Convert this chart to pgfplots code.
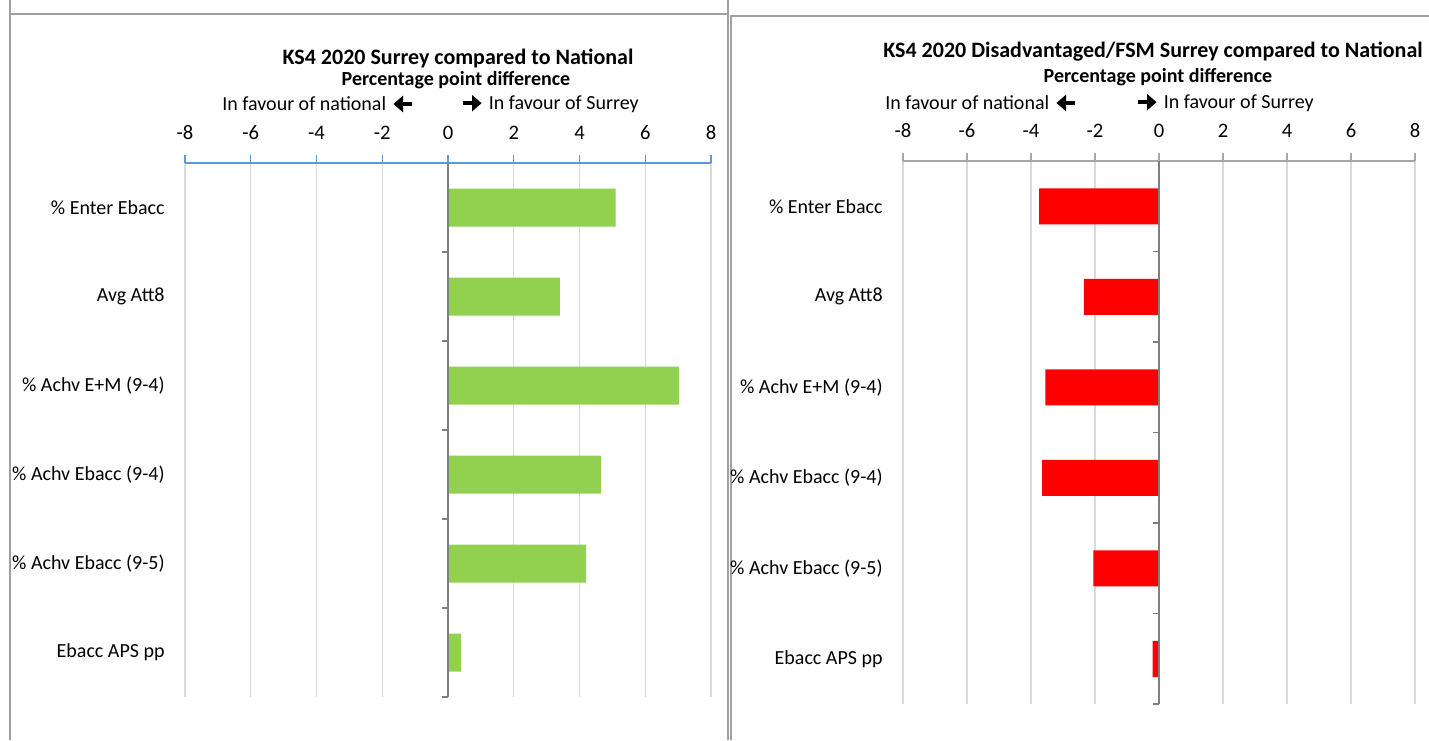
\documentclass[border=0pt]{standalone}
\usepackage{pgfplots}
\pgfplotsset{compat=1.18}
\usetikzlibrary{arrows.meta}
\usepackage{fontspec}
\setmainfont{Carlito}
\definecolor{barGreen}{HTML}{92D050}
\definecolor{barRed}{HTML}{FF0000}
\definecolor{axBlue}{HTML}{5B9BD5}
\definecolor{axGrey}{HTML}{A6A6A6}
\definecolor{zeroGrey}{HTML}{7F7F7F}
\definecolor{gridGrey}{HTML}{D9D9D9}
\definecolor{frameGrey}{HTML}{A0A0A0}
\newcommand{\rarr}{\tikz[baseline=-3.2pt]\draw[line width=2.2pt,-{Triangle[length=4.8pt,width=8pt]}] (0,0)--(9.5pt,0);}
\newcommand{\larr}{\tikz[baseline=-3.2pt]\draw[line width=2.2pt,-{Triangle[length=4.8pt,width=8pt]}] (9.5pt,0)--(0,0);}
\pgfplotsset{
  panel/.style={
    scale only axis,
    xbar,
    xmin=-8, xmax=8,
    ymin=0.5, ymax=6.5,
    y dir=reverse,
    xtick={-8,-6,...,8},
    ytick={1,...,6},
    yticklabels={\% Enter Ebacc, Avg Att8, \% Achv E+M (9-4), \% Achv Ebacc (9-4), \% Achv Ebacc (9-5), Ebacc APS pp},
    axis x line*=top,
    axis y line*=left,
    y axis line style={draw=none},
    ytick style={draw=none},
    tick align=outside,
    major tick length=4pt,
    xmajorgrids,
    grid style={draw=gridGrey, line width=0.6pt},
    xticklabel style={font=\fontsize{10.3}{12}\selectfont, anchor=south, inner sep=0pt, yshift=7.4pt},
    yticklabel style={font=\fontsize{10}{12}\selectfont, anchor=east, inner sep=0pt, xshift=-6pt},
    /pgf/number format/assume math mode=true,
    clip=false,
  }
}
\begin{document}
\begin{tikzpicture}
\path[use as bounding box] (0,0) rectangle (714.5pt,370pt);
% panel frames
\draw[frameGrey, line width=0.8pt] (5pt,370pt) -- (5pt,363pt) -- (364pt,363pt) -- (364pt,370pt);
\draw[frameGrey, line width=0.8pt] (5pt,363pt) -- (5pt,0pt);
\draw[frameGrey, line width=0.8pt] (364pt,363pt) -- (364pt,0pt);
\draw[frameGrey, line width=0.8pt] (365.5pt,0pt) -- (365.5pt,362pt) -- (714.5pt,362pt);

% Left panel
\begin{axis}[panel, at={(92.5pt,21.5pt)}, anchor=south west, width=263pt, height=267pt,
  x axis line style={draw=axBlue, line width=0.7pt},
  xtick style={draw=axBlue, line width=0.7pt}]
\addplot[fill=barGreen, draw=none, bar width=19pt] coordinates {(5.1,1) (3.4,2) (7.03,3) (4.65,4) (4.2,5) (0.4,6)};
\draw[zeroGrey, line width=0.8pt] (axis cs:0,0.5) -- (axis cs:0,6.5);
\draw[zeroGrey, line width=0.8pt] (axis cs:0,1.5) -- ++(-3pt,0pt) (axis cs:0,2.5) -- ++(-3pt,0pt) (axis cs:0,3.5) -- ++(-3pt,0pt) (axis cs:0,4.5) -- ++(-3pt,0pt) (axis cs:0,5.5) -- ++(-3pt,0pt) (axis cs:0,6.5) -- ++(-3pt,0pt);
\end{axis}

% Right panel
\begin{axis}[panel, at={(451.5pt,18pt)}, anchor=south west, width=256pt, height=271.5pt,
  x axis line style={draw=axGrey, line width=0.7pt},
  xtick style={draw=axGrey, line width=0.7pt}]
\addplot[fill=barRed, draw=none, bar width=18pt] coordinates {(-3.75,1) (-2.35,2) (-3.55,3) (-3.65,4) (-2.05,5) (-0.2,6)};
\draw[zeroGrey, line width=0.8pt] (axis cs:0,0.5) -- (axis cs:0,6.5);
\draw[zeroGrey, line width=0.8pt] (axis cs:0,1.5) -- ++(-3pt,0pt) (axis cs:0,2.5) -- ++(-3pt,0pt) (axis cs:0,3.5) -- ++(-3pt,0pt) (axis cs:0,4.5) -- ++(-3pt,0pt) (axis cs:0,5.5) -- ++(-3pt,0pt) (axis cs:0,6.5) -- ++(-3pt,0pt);
\end{axis}

% Left titles
\node[font=\bfseries\fontsize{11}{13}\selectfont] at (229pt,341pt) {KS4 2020 Surrey compared to National};
\node[font=\bfseries\fontsize{10}{12}\selectfont] at (228pt,330pt) {Percentage point difference};
\node[font=\fontsize{10}{12}\selectfont, anchor=east, inner sep=0pt] at (207.5pt,318pt) {In favour of national\hspace{2.5pt}\larr};
\node[font=\fontsize{10}{12}\selectfont, anchor=west, inner sep=0pt] at (230pt,318pt) {\rarr\hspace{2.5pt}In favour of Surrey};

% Right titles
\node[font=\bfseries\fontsize{11}{13}\selectfont] at (576.5pt,344pt) {KS4 2020 Disadvantaged/FSM Surrey compared to National};
\node[font=\bfseries\fontsize{10}{12}\selectfont] at (579pt,331.5pt) {Percentage point difference};
\node[font=\fontsize{10}{12}\selectfont, anchor=east, inner sep=0pt] at (539pt,318.5pt) {In favour of national\hspace{2.5pt}\larr};
\node[font=\fontsize{10}{12}\selectfont, anchor=west, inner sep=0pt] at (567.5pt,318.5pt) {\rarr\hspace{2.5pt}In favour of Surrey};
\end{tikzpicture}
\end{document}
